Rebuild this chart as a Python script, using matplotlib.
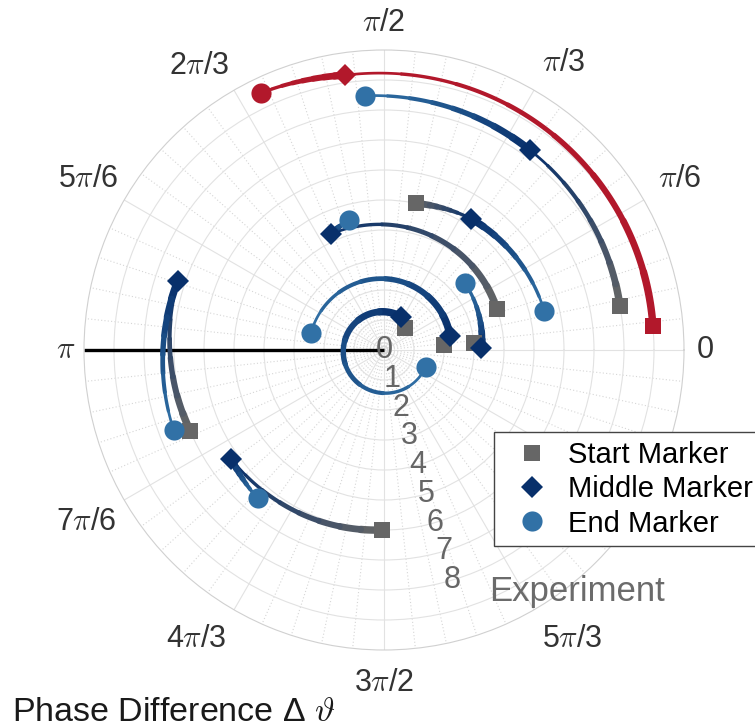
import numpy as np
import matplotlib
matplotlib.use('Agg')
import matplotlib.pyplot as plt
from matplotlib.collections import LineCollection
from matplotlib.colors import LinearSegmentedColormap
from matplotlib.lines import Line2D

plt.rcParams['font.family'] = ['Liberation Sans', 'DejaVu Sans']
plt.rcParams['mathtext.fontset'] = 'cm'

# phase difference (deg), sampled evenly in time; index 8 is the middle marker
exp1 = [46, 48, 50, 52, 54, 56, 58, 60.5, 63, 97, 131, 166, 200, 235, 269, 304, 338]
exp2 = [4.6, 5.5, 6.4, 7.3, 8.2, 9.2, 10.1, 11, 12, 31, 51, 70, 89, 109, 128, 148, 167]
exp3 = [4.4, 4.0, 3.6, 3.2, 2.8, 2.3, 1.9, 1.5, 1.1, 6, 10.8, 15.6, 20.4, 25.2, 30, 34.9, 39.7]
exp4 = [20, 31.8, 43.7, 55.5, 67.4, 79.2, 91, 102.9, 114.7, 113.5, 112.3, 111.1, 109.9, 108.6, 107.4, 106.2, 105]
exp5 = [77.7, 75.1, 72.4, 69.8, 67.2, 64.5, 61.9, 59.2, 56.6, 51.2, 45.9, 40.5, 35.1, 29.7, 24.4, 19, 13.6]
exp6 = [269.4, 262.6, 255.9, 249.1, 242.4, 235.6, 228.9, 222.1, 215.4, 217.2, 218.9, 220.7, 222.5, 224.3, 226.1, 227.8, 229.6]
exp7 = [202.6, 197.5, 192.4, 187.2, 182.1, 177, 171.9, 166.7, 161.6, 166.5, 171.4, 176.3, 181.2, 186, 190.9, 195.8, 200.7]
exp8 = [10.5, 15.9, 21.3, 26.7, 32.2, 37.6, 43, 48.4, 53.8, 58.9, 63.9, 69, 74.1, 79.1, 84.2, 89.2, 94.3]
exp9 = [5.1, 16.7, 28.3, 39.9, 51.6, 63.2, 74.8, 86.4, 98, 100.2, 102.4, 104.6, 106.8, 108.9, 111.1, 113.3, 115.5]

experiments = [1, 2, 3, 4, 5, 6, 7, 8, 9]
trajectories = [exp1, exp2, exp3, exp4, exp5, exp6, exp7, exp8, exp9]
highlight = 9

theta_labels = ['0', r'$\pi$/6', r'$\pi$/3', r'$\pi$/2', r'2$\pi$/3', r'5$\pi$/6',
                r'$\pi$', r'7$\pi$/6', r'4$\pi$/3', r'3$\pi$/2', r'5$\pi$/3']
r_labels = ['0', '1', '2', '3', '4', '5', '6', '7', '8']

# where the angular labels sit (deg, radius)
label_angle = [0, 30, 58, 90, 123, 150, 180, 210, 237, 270, 303]
label_r = [10.7, 11.4, 11.3, 10.9, 11.3, 11.4, 10.6, 11.45, 11.5, 11.1, 11.5]

grey = '#666666'
navy = '#08306b'
blue = '#3171a6'
red = '#b2182b'
drift = 0.5          # radial drift over one trajectory
w_start, w_end = 5.6, 1.7

first_cmap = LinearSegmentedColormap.from_list('first', [grey, navy])
second_cmap = LinearSegmentedColormap.from_list('second', [navy, blue])

fig = plt.figure(figsize=(7.55, 7.28), dpi=100)
ax = fig.add_axes([84 / 755, 78 / 728, 600 / 755, 600 / 728], projection='polar')

# grid
ax.set_xticks(np.deg2rad(range(0, 360, 30)))
ax.set_xticks(np.deg2rad([a for a in range(0, 360, 6) if a % 30]), minor=True)
ax.set_yticks(range(1, 10))
ax.set_xticklabels([])
ax.set_yticklabels([])
ax.tick_params(which='both', length=0)
ax.xaxis.grid(True, which='major', color='#e2e2e2', lw=0.8, ls='-')
ax.xaxis.grid(True, which='minor', color='#d6d6d6', lw=0.8, ls=(0, (1, 2)))
ax.yaxis.grid(True, color='#e2e2e2', lw=0.8)
ax.spines['polar'].set_color('#d0d0d0')
ax.spines['polar'].set_linewidth(0.8)

ax.plot([np.pi, np.pi], [0, 10], color='black', lw=2.4, solid_capstyle='butt', zorder=2.5)

for n, phase in zip(experiments, trajectories):
    theta = np.deg2rad(phase)
    t = np.linspace(0, 1, len(phase))
    r = n + drift * t
    mid = len(phase) // 2
    is_hl = n == highlight
    z = 5 if is_hl else 3
    for half, (i0, i1) in enumerate([(0, mid), (mid, len(phase) - 1)]):
        pts = np.column_stack([theta[i0:i1 + 1], r[i0:i1 + 1]])
        segs = np.stack([pts[:-1], pts[1:]], axis=1)
        f = (np.arange(len(segs)) + 0.5) / len(segs)
        if is_hl:
            colors = [red] * len(segs)
        else:
            colors = (first_cmap if half == 0 else second_cmap)(f)
        widths = w_start + (w_end - w_start) * f
        lc = LineCollection(segs, colors=colors, linewidths=widths,
                            capstyle='round', joinstyle='round', zorder=z)
        for p in lc.get_paths():
            p._interpolation_steps = 12
        ax.add_collection(lc)
    ax.plot(theta[0], r[0], 's', ms=11.5, mew=0, color=red if is_hl else grey, zorder=z + 1)
    ax.plot(theta[mid], r[mid], 'D', ms=11, mew=0, color=red if is_hl else navy, zorder=z + 1)
    ax.plot(theta[-1], r[-1], 'o', ms=14.5, mew=0, color=red if is_hl else blue, zorder=z + 1)

ax.set_ylim(0, 10)

# angular labels
for a, rl, lab in zip(label_angle, label_r, theta_labels):
    ax.text(np.deg2rad(a), rl, lab, ha='center', va='center', fontsize=22,
            color='#333333', clip_on=False)

# radial labels
for i, lab in enumerate(r_labels):
    ax.text(np.deg2rad(-73.5), i, lab, ha='center', va='center', fontsize=22,
            color='#666666', zorder=4)

fig.text(577 / 755, 1 - 592 / 728, 'Experiment', ha='center', va='center',
         fontsize=25, color='#6b6b6b')
fig.text(12 / 755, 7 / 728, r'Phase Difference Δ $\vartheta$', ha='left',
         va='baseline', fontsize=24.5, color='#1a1a1a')

handles = [
    Line2D([], [], ls='none', marker='s', ms=11.5, mew=0, color=grey, label='Start Marker'),
    Line2D([], [], ls='none', marker='D', ms=11, mew=0, color=navy, label='Middle Marker'),
    Line2D([], [], ls='none', marker='o', ms=14.5, mew=0, color=blue, label='End Marker'),
]
leg = fig.legend(handles=handles, loc='upper left', bbox_to_anchor=(494 / 755, 1 - 432 / 728),
                 bbox_transform=fig.transFigure, fontsize=21, frameon=True, fancybox=False,
                 edgecolor='#444444', framealpha=1, borderpad=0.3, handlelength=2.0,
                 handletextpad=0.25, labelspacing=0.22, borderaxespad=0)
leg.get_frame().set_linewidth(1.0)

fig.savefig('out.png', dpi=100)
